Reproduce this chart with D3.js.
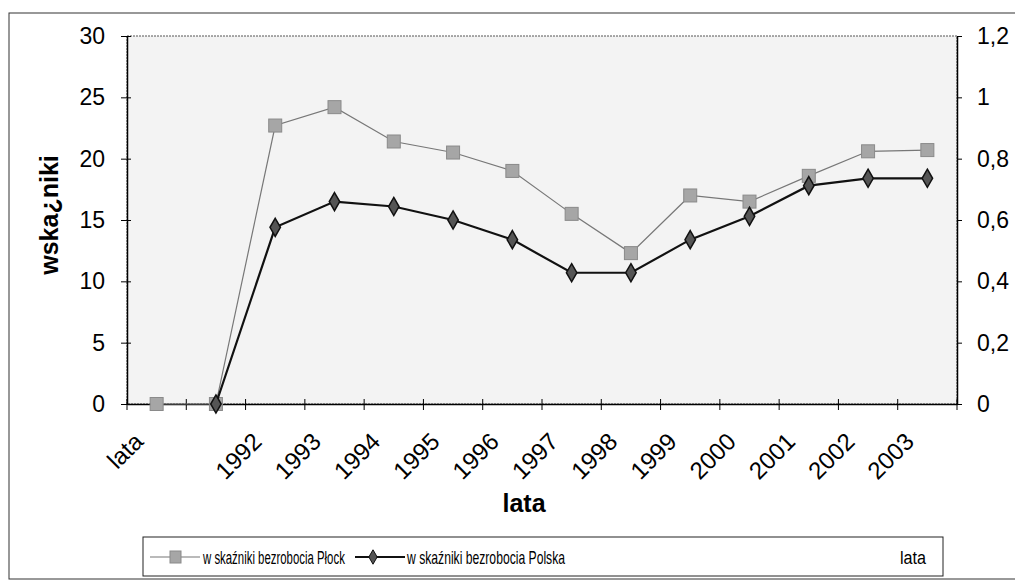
<!DOCTYPE html>
<html>
<head>
<meta charset="utf-8">
<script src="https://d3js.org/d3.v7.min.js"></script>
<style>
  body { margin: 0; background: #fff; }
  text { font-family: "Liberation Sans", Arial, sans-serif; fill: #000; }
</style>
</head>
<body>
<svg width="1015" height="582"></svg>
<script>
const categories = ['lata', '', '1992', '1993', '1994', '1995', '1996', '1997', '1998', '1999', '2000', '2001', '2002', '2003'];
const plock = [0, 0, 22.7, 24.2, 21.4, 20.5, 19.0, 15.5, 12.3, 17.0, 16.5, 18.6, 20.6, 20.7];
const polska = [null, 0, 14.4, 16.5, 16.1, 15.0, 13.4, 10.7, 10.7, 13.4, 15.3, 17.8, 18.4, 18.4];
const leftTicks = [0, 5, 10, 15, 20, 25, 30];
const rightTicks = [0, 0.2, 0.4, 0.6, 0.8, 1, 1.2];

const svg = d3.select('svg');
const pLeft = 127, pRight = 957, pTop = 36, pBottom = 404;

// outer chart frame
svg.append('rect')
  .attr('x', 9).attr('y', 13).attr('width', 1010).attr('height', 566)
  .attr('fill', 'none').attr('stroke', '#333').attr('stroke-width', 1);

const x = d3.scaleBand().domain(d3.range(categories.length)).range([pLeft, pRight]);
const y = d3.scaleLinear().domain([0, 30]).range([pBottom, pTop]);
const y2 = d3.scaleLinear().domain([0, 1.2]).range([pBottom, pTop]);
const cx = i => x(i) + x.bandwidth() / 2;

// plot area
svg.append('rect')
  .attr('x', pLeft).attr('y', pTop).attr('width', pRight - pLeft).attr('height', pBottom - pTop)
  .attr('fill', '#f3f3f3').attr('stroke', '#555').attr('stroke-dasharray', '2,1');

// left axis
const gl = svg.append('g').attr('transform', `translate(${pLeft},0)`)
  .call(d3.axisLeft(y).tickValues(leftTicks).tickSizeInner(5).tickSizeOuter(0).tickPadding(17));
gl.selectAll('.tick line').attr('x2', 4).attr('x1', -6);
gl.selectAll('text').style('font-size', '23px');

// right axis
const gr = svg.append('g').attr('transform', `translate(${pRight},0)`)
  .call(d3.axisRight(y2).tickValues(rightTicks).tickSizeInner(5).tickSizeOuter(0).tickPadding(15)
    .tickFormat(d => String(d).replace('.', ',')));
gr.selectAll('text').style('font-size', '23px');

// bottom axis
const gb = svg.append('g').attr('transform', `translate(0,${pBottom})`)
  .call(d3.axisBottom(x).tickSize(0).tickFormat(''));
gb.selectAll('.tick').remove();
gb.selectAll('.boundary').data(d3.range(categories.length + 1)).enter().append('line')
  .attr('x1', i => pLeft + i * x.step()).attr('x2', i => pLeft + i * x.step())
  .attr('y1', -5).attr('y2', 6).attr('stroke', '#000');
gb.selectAll('.lbl').data(categories).enter().append('text')
  .attr('transform', (d, i) => `translate(${cx(i) - 12},${39}) rotate(-45)`)
  .attr('text-anchor', 'end')
  .style('font-size', '24px').text(d => d);
svg.selectAll('.domain').attr('stroke', '#000').attr('stroke-width', 1.5);

// axis titles
svg.append('text').attr('x', 524).attr('y', 512).attr('text-anchor', 'middle')
  .style('font-size', '25px').style('font-weight', 'bold').text('lata');
svg.append('text').attr('transform', 'translate(58,215) rotate(-90)').attr('text-anchor', 'middle')
  .style('font-size', '25px').style('font-weight', 'bold').text('wska¿niki');

const line = d3.line().defined(d => d != null).x((d, i) => cx(i)).y(d => y(d));
const idx = a => a.map((v, i) => ({ v, i })).filter(d => d.v != null);

// Plock series
svg.append('path').datum(plock).attr('d', line)
  .attr('fill', 'none').attr('stroke', '#777').attr('stroke-width', 1.2);
svg.selectAll('.sq').data(idx(plock)).enter().append('rect')
  .attr('x', d => cx(d.i) - 6.5).attr('y', d => y(d.v) - 6.5).attr('width', 13).attr('height', 13)
  .attr('fill', '#a6a6a6').attr('stroke', '#8a8a8a');

// Polska series
svg.append('path').datum(polska).attr('d', line)
  .attr('fill', 'none').attr('stroke', '#111').attr('stroke-width', 2.2);
const diamond = d3.symbol().type(d3.symbolDiamond).size(95);
svg.selectAll('.dm').data(idx(polska)).enter().append('path')
  .attr('transform', d => `translate(${cx(d.i)},${y(d.v)})`).attr('d', diamond)
  .attr('fill', '#555').attr('stroke', '#111').attr('stroke-width', 1.5);

// legend (scanned text is squeezed horizontally, so scale x)
const lg = svg.append('g');
lg.append('rect').attr('x', 143).attr('y', 537).attr('width', 800).attr('height', 39)
  .attr('fill', '#fff').attr('stroke', '#222');
lg.append('line').attr('x1', 150).attr('x2', 200).attr('y1', 557).attr('y2', 557)
  .attr('stroke', '#777').attr('stroke-width', 1.2);
lg.append('rect').attr('x', 170).attr('y', 551).attr('width', 11).attr('height', 12)
  .attr('fill', '#a6a6a6').attr('stroke', '#8a8a8a');
lg.append('text').attr('transform', 'translate(203,564) scale(0.6,1)').style('font-size', '19px')
  .text('w skaźniki bezrobocia Płock');
lg.append('line').attr('x1', 355).attr('x2', 405).attr('y1', 557).attr('y2', 557)
  .attr('stroke', '#111').attr('stroke-width', 2.2);
lg.append('path').attr('transform', 'translate(373,557)').attr('d', d3.symbol().type(d3.symbolDiamond).size(60))
  .attr('fill', '#555').attr('stroke', '#111');
lg.append('text').attr('transform', 'translate(407,564) scale(0.64,1)').style('font-size', '19px')
  .text('w skaźniki bezrobocia Polska');
lg.append('text').attr('transform', 'translate(900,564) scale(0.85,1)').style('font-size', '19px')
  .text('lata');
</script>
</body>
</html>
